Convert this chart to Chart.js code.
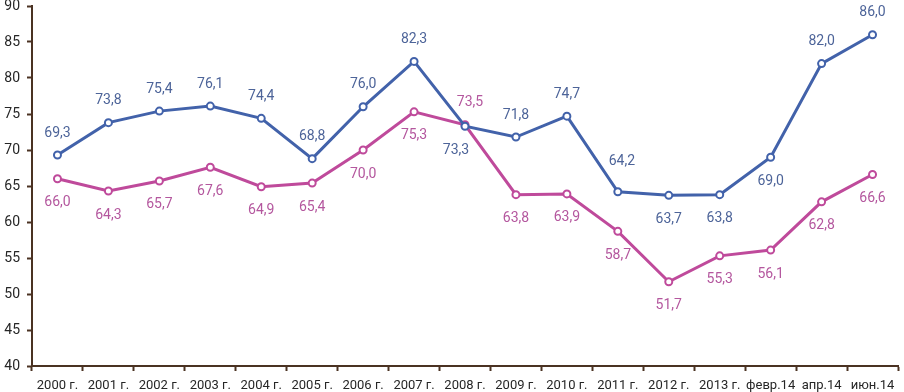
<!DOCTYPE html>
<html>
<head>
<meta charset="utf-8">
<script src="https://cdn.jsdelivr.net/npm/chart.js@4/dist/chart.umd.min.js"></script>
<style>
  html, body { margin: 0; padding: 0; background: #ffffff; }
  #wrap { width: 904px; height: 392px; }
</style>
</head>
<body>
<div id="wrap"><canvas id="c" width="904" height="392"></canvas></div>
<script>
const categories = ['2000 г.', '2001 г.', '2002 г.', '2003 г.', '2004 г.', '2005 г.', '2006 г.', '2007 г.', '2008 г.', '2009 г.', '2010 г.', '2011 г.', '2012 г.', '2013 г.', 'февр.14', 'апр.14', 'июн.14'];
const seriesBlue = [69.3, 73.8, 75.4, 76.1, 74.4, 68.8, 76.0, 82.3, 73.3, 71.8, 74.7, 64.2, 63.7, 63.8, 69.0, 82.0, 86.0];
const seriesPink = [66.0, 64.3, 65.7, 67.6, 64.9, 65.4, 70.0, 75.3, 73.5, 63.8, 63.9, 58.7, 51.7, 55.3, 56.1, 62.8, 66.6];
const yMin = 40;
const yMax = 90;
const yStep = 5;

const AXIS = '#4a3222';
const BLUE = '#4262aa';
const BLUE_TXT = '#4d6499';
const PINK = '#bf4a9b';
const PINK_TXT = '#b4579e';

// label placement (style only): 'a' above, 'b' below, with small nudges
const labelStyle = [
  { color: BLUE_TXT, place: ['a','a','a','a','a','a','a','a','b','a','a','a','b','b','b','a','a'],
    nudge: { 8: [-9, 0], 11: [4, -8] } },
  { color: PINK_TXT, place: ['b','b','b','b','b','b','b','b','a','b','b','b','b','b','b','b','b'],
    nudge: { 8: [5, 0] } }
];

const valueLabels = {
  id: 'valueLabels',
  afterDatasetsDraw(chart) {
    const ctx = chart.ctx;
    ctx.save();
    ctx.font = '14px Roboto';
    ctx.textAlign = 'center';
    ctx.textBaseline = 'middle';
    chart.data.datasets.forEach((ds, di) => {
      const meta = chart.getDatasetMeta(di);
      const st = labelStyle[di];
      ctx.fillStyle = st.color;
      meta.data.forEach((pt, i) => {
        const v = ds.data[i];
        const txt = v.toFixed(1).replace('.', ',');
        let dy = st.place[i] === 'a' ? -22 : 24;
        let dx = 0;
        if (st.nudge[i]) { dx += st.nudge[i][0]; dy += st.nudge[i][1]; }
        ctx.fillText(txt, pt.x + dx, pt.y + dy);
      });
    });
    ctx.restore();
  }
};

new Chart(document.getElementById('c'), {
  type: 'line',
  data: {
    labels: categories,
    datasets: [
      { data: seriesBlue, borderColor: BLUE, backgroundColor: '#ffffff', borderWidth: 3,
        pointRadius: 3.5, pointBorderWidth: 2, pointBackgroundColor: '#ffffff', pointBorderColor: BLUE, tension: 0 },
      { data: seriesPink, borderColor: PINK, backgroundColor: '#ffffff', borderWidth: 3,
        pointRadius: 3.5, pointBorderWidth: 2, pointBackgroundColor: '#ffffff', pointBorderColor: PINK, tension: 0 }
    ]
  },
  options: {
    responsive: false,
    devicePixelRatio: 1,
    animation: false,
    layout: { padding: { top: 6, right: 2, left: 0, bottom: 0 } },
    plugins: { legend: { display: false }, tooltip: { enabled: false } },
    scales: {
      x: {
        offset: true,
        grid: { offset: true, drawOnChartArea: false, drawTicks: true, tickLength: 5, tickColor: AXIS, tickWidth: 2 },
        border: { display: true, color: AXIS, width: 2 },
        ticks: { font: { family: 'Roboto', size: 13 }, color: '#262626', padding: 7, maxRotation: 0, autoSkip: false },
        afterFit(s) { s.height = 26; s.paddingLeft = 0; s.paddingRight = 0; }
      },
      y: {
        min: yMin, max: yMax,
        grid: { drawOnChartArea: false, drawTicks: true, tickLength: 5, tickColor: AXIS, tickWidth: 2 },
        border: { display: true, color: AXIS, width: 2 },
        ticks: { stepSize: yStep, font: { family: 'Roboto', size: 14 }, color: '#262626', padding: 7 },
        afterFit(s) { s.width = 32; s.paddingTop = 0; s.paddingBottom = 0; }
      }
    }
  },
  plugins: [valueLabels]
});
</script>
</body>
</html>
